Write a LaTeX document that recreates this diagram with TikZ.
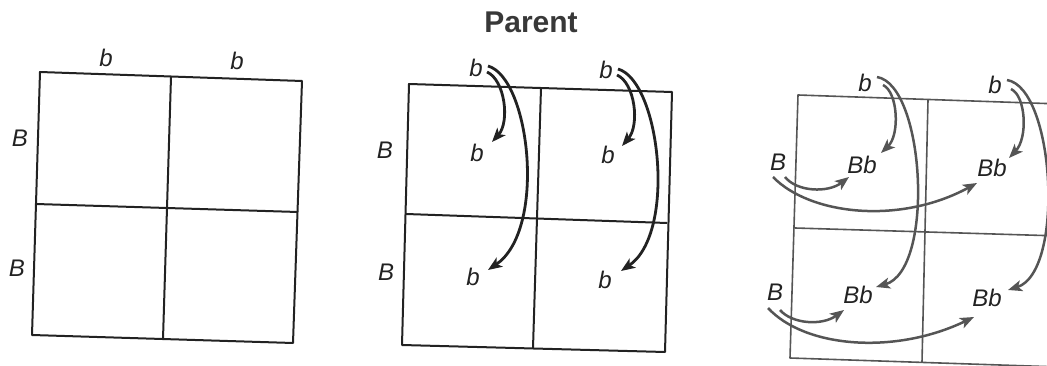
\documentclass[tikz,border=0pt]{standalone}
\usepackage{fontspec}
\setsansfont{Liberation Sans}
\usetikzlibrary{arrows.meta}
\definecolor{g3}{HTML}{555555}
\definecolor{ink}{HTML}{222222}
\begin{document}
\begin{tikzpicture}[x=1pt,y=-1pt,
  lab/.style={font=\sffamily\itshape\fontsize{24}{26}\selectfont, inner sep=0pt, text=ink},
  gridline/.style={line width=2pt, draw=ink, line join=round},
  gridgray/.style={line width=1.6pt, draw=g3, line join=round},
  arr/.style={line width=2.8pt, draw=ink, -{Stealth[length=14pt,width=11pt,inset=3.5pt]}},
  arrg/.style={line width=2.5pt, draw=g3, -{Stealth[length=14pt,width=11pt,inset=3.5pt]}},
]
\useasboundingbox (0,0) rectangle (1047,366);
\clip (0,0) rectangle (1047,366);

\node[font=\sffamily\bfseries\fontsize{30}{32}\selectfont, text=ink!90, inner sep=0pt] (title) at (531,22) {Parent};

% ---------- grid 1
\draw[gridline] (40,72) -- (302,81) -- (293,343) -- (32,335) -- cycle;
\draw[gridline] (171,77) -- (163,339);
\draw[gridline] (36,204) -- (298,212);
\node[lab] (t11) at (106,58) {b};
\node[lab] (t12) at (237,61) {b};
\node[lab] (s11) at (20,138) {B};
\node[lab] (s12) at (17,268) {B};

% ---------- grid 2
\draw[gridline] (409,84) -- (672,92) -- (665,352) -- (402,345) -- cycle;
\draw[gridline] (541,88) -- (533,348);
\draw[gridline] (406,214) -- (667,223);
\node[lab] (t21) at (476,68) {b};
\node[lab] (t22) at (606,70) {b};
\node[lab] (s21) at (385,150) {B};
\node[lab] (s22) at (386,272) {B};
\node[lab] (m21) at (477,153) {b};
\node[lab] (m22) at (608,155) {b};
\node[lab] (l21) at (473,277) {b};
\node[lab] (l22) at (605,280) {b};

\draw[arr] ([shift={(11,4)}]t21.center) .. controls (505,80) and (510,122) .. ([shift={(15,-11)}]m21.center);
\draw[arr] ([shift={(12,-2)}]t21.center) .. controls (530,78) and (547,230) .. ([shift={(15,-7)}]l21.center);
\draw[arr] ([shift={(11,5)}]t22.center) .. controls (635,83) and (640,125) .. ([shift={(14,-9)}]m22.center);
\draw[arr] ([shift={(12,-1)}]t22.center) .. controls (660,81) and (677,233) .. ([shift={(16,-9)}]l22.center);

% ---------- grid 3
\draw[gridgray] (1060,104) -- (798,95) -- (790,358) -- (1060,367);
\draw[gridgray] (928,100) -- (922,362);
\draw[gridgray] (795,228) -- (1060,236);
\node[lab] (t31) at (865,83) {b};
\node[lab] (t32) at (995,85) {b};
\node[lab] (s31) at (778,162) {B};
\node[lab] (s32) at (775,292) {B};
\node[lab] (c11) at (862,165) {Bb};
\node[lab] (c12) at (992,168) {Bb};
\node[lab] (c21) at (858,295) {Bb};
\node[lab] (c22) at (987,298) {Bb};

\draw[arrg] ([shift={(18,2)}]t31.center) .. controls (898,92) and (900,135) .. ([shift={(19,-12)}]c11.center);
\draw[arrg] ([shift={(12,-6)}]t31.center) .. controls (925,85) and (935,270) .. ([shift={(18,-8)}]c21.center);
\draw[arrg] ([shift={(16,4)}]t32.center) .. controls (1026,96) and (1028,138) .. ([shift={(17,-10)}]c12.center);
\draw[arrg] ([shift={(12,-5)}]t32.center) .. controls (1055,88) and (1065,272) .. ([shift={(21,-8)}]c22.center);

\draw[arrg] ([shift={(7,15)}]s31.center) .. controls (797,192) and (828,193) .. ([shift={(-13,12)}]c11.center);
\draw[arrg] ([shift={(-5,15)}]s31.center) .. controls (810,215) and (900,225) .. ([shift={(-15,15)}]c12.center);
\draw[arrg] ([shift={(5,18)}]s32.center) .. controls (792,324) and (822,326) .. ([shift={(-14,15)}]c21.center);
\draw[arrg] ([shift={(-7,16)}]s32.center) .. controls (805,348) and (895,355) .. ([shift={(-13,19)}]c22.center);
\end{tikzpicture}
\end{document}
